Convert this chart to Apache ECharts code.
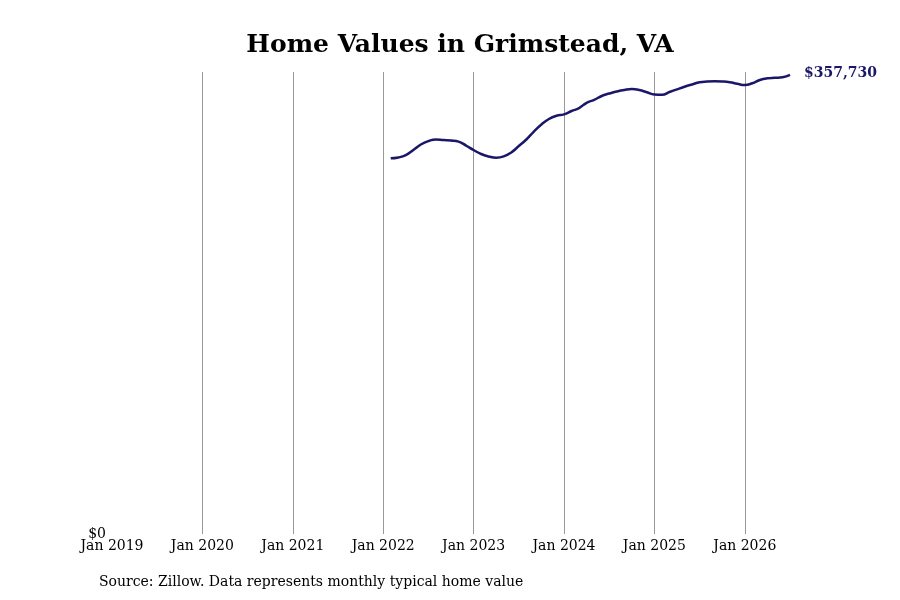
<!DOCTYPE html>
<html>
<head>
<meta charset="utf-8">
<title>Home Values in Grimstead, VA</title>
<script src="https://cdn.jsdelivr.net/npm/echarts@6/dist/echarts.min.js"></script>
<style>
    html, body { margin: 0; padding: 0; background: #fff; }
    #chart { width: 900px; height: 600px; }
</style>
</head>
<body>
<div id="chart"></div>
<script>
    // axis runs monthly from Jan 2019 to Jul 2026
    var firstYear = 2019;
    var lastYear = 2026;
    var lastMonth = 7;
    var monthNames = ['Jan', 'Feb', 'Mar', 'Apr', 'May', 'Jun', 'Jul', 'Aug', 'Sep', 'Oct', 'Nov', 'Dec'];

    // typical home value, monthly, Feb 2022 .. Jul 2026
    var valueStart = 'Feb 2022';
    var homeValues = [
        292700, 293400, 295300, 299200, 303500, 306200, 307500, 307000, 306600, 305700, 302700,
        299200, 296100, 294200, 293200, 294200, 297300, 302300, 307400, 313600, 319100, 323400, 325900,
        327000, 329600, 331900, 336000, 338300, 341300, 343200, 344800, 346000, 346700, 346000, 344200,
        342500, 342200, 344400, 346500, 348500, 350300, 352000, 352600, 352800, 352600, 352000, 350800,
        349900, 351200, 353800, 355100, 355500, 355900, 357730
    ];

    var yMax = 360000;
    var sourceText = 'Source: Zillow. Data represents monthly typical home value';

    var months = [];
    for (var y = firstYear; y <= lastYear; y++) {
        for (var m = 0; m < 12; m++) {
            if (y == lastYear && m >= lastMonth) break;
            months.push(monthNames[m] + ' ' + y);
        }
    }

    var startIdx = months.indexOf(valueStart);
    var seriesData = homeValues.map(function(v, i) {
        return [months[startIdx + i], v];
    });

    function money(v) {
        return '$' + Math.round(v).toString().replace(/\B(?=(\d{3})+(?!\d))/g, ',');
    }

    var font = 'DejaVu Serif';
    var chart = echarts.init(document.getElementById('chart'));

    chart.setOption({
        animation: false,
        textStyle: { fontFamily: font },
        title: [{
            text: 'Home Values in Grimstead, VA',
            left: 455,
            textAlign: 'center',
            top: 28,
            textStyle: { fontFamily: font, fontSize: 25, fontWeight: 'bold', color: '#000' }
        }, {
            text: sourceText,
            left: 94,
            top: 570,
            textStyle: { fontFamily: font, fontSize: 14, fontWeight: 'normal', color: '#000' }
        }],
        grid: { left: 112, right: 110, top: 72, bottom: 66 },
        xAxis: {
            type: 'category',
            data: months,
            boundaryGap: false,
            axisLine: { show: false },
            axisTick: { show: false },
            axisLabel: {
                interval: 11,
                margin: 5,
                color: '#000',
                fontFamily: font,
                fontSize: 14
            },
            splitLine: {
                show: true,
                interval: 11,
                showMinLine: false,
                lineStyle: { color: '#999', width: 1 }
            }
        },
        yAxis: {
            type: 'value',
            min: 0,
            max: yMax,
            interval: yMax,
            axisLine: { show: false },
            axisTick: { show: false },
            splitLine: { show: false },
            axisLabel: {
                showMaxLabel: false,
                margin: 6,
                padding: [8, 0, 0, 0],
                color: '#000',
                fontFamily: font,
                fontSize: 14,
                formatter: function(v) { return money(v); }
            }
        },
        series: [{
            type: 'line',
            data: seriesData,
            smooth: true,
            showSymbol: false,
            lineStyle: { color: '#1b1768', width: 2.5 },
            endLabel: {
                show: true,
                distance: 14,
                offset: [0, -2],
                color: '#1b1768',
                fontFamily: font,
                fontSize: 14,
                fontWeight: 'bold',
                formatter: function(p) { return money(p.value[1]); }
            }
        }]
    });
</script>
</body>
</html>
